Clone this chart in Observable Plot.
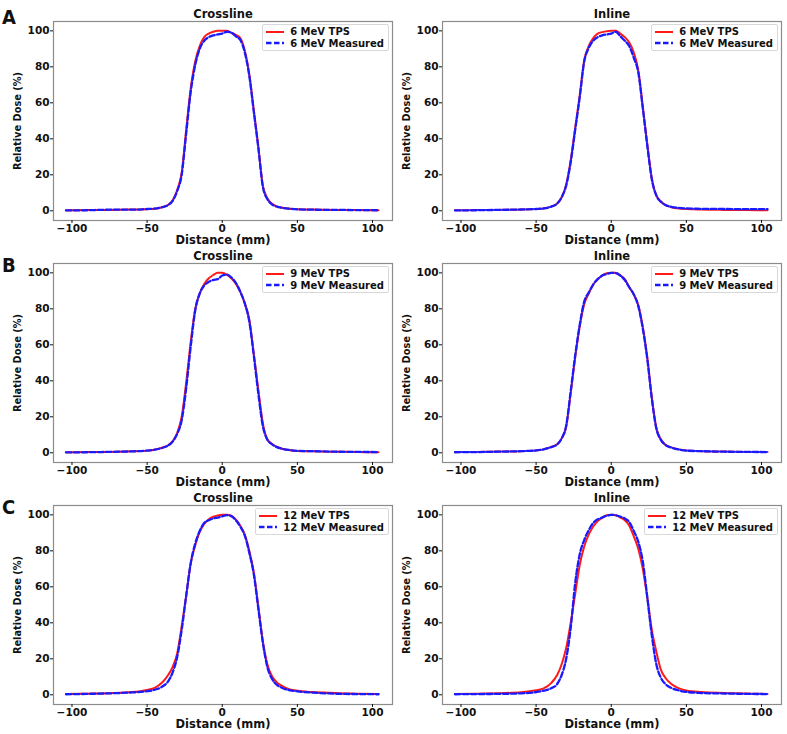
<!DOCTYPE html>
<html>
<head>
<meta charset="utf-8">
<script src="https://cdn.jsdelivr.net/npm/d3@7"></script>
<script src="https://cdn.jsdelivr.net/npm/@observablehq/plot@0.6"></script>
<style>
  body { margin: 0; background: #fff; }
  #fig { position: relative; width: 787px; height: 734px; font-family: "DejaVu Sans", sans-serif; font-weight: bold; color: #111; }
  .panel { position: absolute; z-index: 1; }
  .letter { position: absolute; z-index: 3; left: 2px; font-family: "Liberation Sans Narrow", "DejaVu Sans Condensed", sans-serif; font-weight: bold; font-size: 20px; line-height: 1; }
  .legend { position: absolute; z-index: 2; border: 1px solid #d8d8d8; border-radius: 2px; background: rgba(255,255,255,0.85); padding: 1px 4px 1px 3px; font-size: 10px; }
  .legend div { display: flex; align-items: center; height: 11.5px; white-space: nowrap; }
  .legend svg { margin-right: 6px; }
</style>
</head>
<body>
<div id="fig"></div>
<script>
// distancia (mm) de cada punto del perfil
const distance = [-104,-90,-75,-60,-50,-45,-40,-36,-33,-30,-27,-24,-21,-18,-15,-12,-9,-6,-3,0,3,6,9,12,15,18,21,24,27,30,33,36,40,45,50,60,75,90,104]

const xTicks = [-100, -50, 0, 50, 100]
const yTicks = [0, 20, 40, 60, 80, 100]
const titles = ["Crossline", "Inline"]
const energies = ["6 MeV", "9 MeV", "12 MeV"]
const rowLetters = ["A", "B", "C"]

/* 6 MeV */
const tps6Cross  = [0.3,0.4,0.5,0.7,0.9,1.1,2.0,3.3,5.8,11.5,21,45,68,83,91.5,96.5,98.5,99.5,100,100,100,99,97.8,96,89,76,56,36,14,7,4,2.6,1.7,1.1,0.9,0.7,0.5,0.4,0.3]
const meas6Cross = [0.2,0.3,0.6,0.6,1.0,1.2,2.0,3.2,5.5,11,20,43,66,81,90,94.5,96.5,97.5,98,98.5,99.5,99,97,95,88,75,55,35,13.5,6.5,3.6,2.4,1.6,1.1,0.8,0.6,0.5,0.4,0.3]
const tps6In     = [0.3,0.4,0.5,0.7,1.0,1.3,2.3,4.0,7.5,14.5,28,46,64,83.5,91.5,96,98.5,99.3,99.8,100,100,98.5,96.5,93.5,88,78,58,37,18,8.5,5.3,3.2,2.0,1.3,1.0,0.7,0.5,0.4,0.3]
const meas6In    = [0.2,0.3,0.5,0.7,1.0,1.3,2.3,4.0,7.5,14,27,45,63,83,90.5,94.5,96.5,97.5,98,98.5,99.5,97,94.5,91.5,85,77,57,36,17.5,8.5,5,3.2,2.2,1.6,1.3,1.1,1.0,0.9,0.9]

/* 9 MeV */
const tps9Cross  = [0.3,0.4,0.5,0.8,1.2,1.7,2.8,4.2,6.5,11,20,39,61.5,80,88.5,93.8,97,98.8,100,100,99,97,94,89.5,83,74,55,35,16.5,7.5,5,3.4,2.2,1.4,1.0,0.8,0.6,0.4,0.3]
const meas9Cross = [0.2,0.3,0.5,0.8,1.2,1.7,2.7,4.0,6.2,10.5,18,36,59,79,88.5,93,95,96,96.5,98.5,99,97.5,94.5,89.5,83,73,54,33,15,7.3,4.8,3.3,2.2,1.5,1.1,0.9,0.6,0.5,0.4]
const tps9In     = [0.4,0.5,0.7,0.9,1.3,1.9,3.2,4.7,8,14.5,33,53,70,82.5,88.5,93.5,96.5,98.5,99.8,100,100,98.7,96.5,92,88,82,70,53,31,14,7.5,4.5,3.0,1.9,1.3,0.9,0.7,0.5,0.4]
const meas9In    = [0.3,0.4,0.6,0.9,1.3,1.9,3.1,4.6,8,15,34,54,71,84,89,93.5,96.5,98.5,99.3,100,99.8,98.5,96,92,88,81.5,69,52,30,13.5,7.2,4.4,2.9,1.8,1.2,0.9,0.6,0.5,0.4]

/* 12 MeV */
const tps12Cross  = [0.4,0.6,0.9,1.5,2.7,3.8,6.8,11,15.5,23,38,55,73,83,90.5,95,97.5,99,99.7,100,100,99.5,97.5,94,89,80,68,49,30,17,10.5,7.2,4.8,3.0,2.2,1.5,1.0,0.6,0.4]
const meas12Cross = [0.3,0.5,0.8,1.3,2.0,2.8,4.5,7.5,12.5,21,36,55,73,84,91,95.5,97,98,98.5,99.2,99.8,99.3,97,93.5,88.5,79,67,48,29,15.5,9,5.8,3.8,2.5,1.9,1.2,0.6,0.4,0.3]
const tps12In     = [0.5,0.6,0.9,1.4,2.5,3.6,6.5,11,17,26,40,56,72,82.5,89,93.5,96.5,98.5,99.8,100,99.8,98.5,97,94,88,81,70,54,36,24,14,9.5,6,3.6,2.4,1.5,1.0,0.7,0.5]
const meas12In    = [0.3,0.4,0.5,0.8,1.5,2.3,3.6,6,11,20,37,62,78,86,91.5,95.5,97.5,98.5,99.5,100,99.8,99,98,96,91,85,74,54,33,17,9.5,6,3.8,2.4,1.6,1.0,0.7,0.5,0.4]

const tpsSeries  = [[tps6Cross, tps6In], [tps9Cross, tps9In], [tps12Cross, tps12In]]
const measSeries = [[meas6Cross, meas6In], [meas9Cross, meas9In], [meas12Cross, meas12In]]

const rowH = 242
const fig = d3.select('#fig')
const fmt = d => d < 0 ? `\u2212${-d}` : `${d}`
const toRows = values => distance.map((d, i) => ({distance: d, dose: values[i]}))

energies.forEach((energy, r) => {
  fig.append('div').attr('class', 'letter')
    .style('top', `${r * rowH + (r == 0 ? 7 : 13)}px`)
    .text(rowLetters[r])

  titles.forEach((title, c) => {
    const left = c ? 390 : 0
    const width = c ? 397 : 393
    const mLeft = c ? 52 : 53
    const mRight = c ? 6 : 1

    const chart = Plot.plot({
      width, height: rowH,
      marginLeft: mLeft, marginRight: mRight, marginTop: 21, marginBottom: 22,
      style: {fontFamily: '"DejaVu Sans", sans-serif', fontWeight: 'bold', fontSize: '10.5px', color: '#111', background: 'transparent', overflow: 'visible'},
      x: {domain: [-112.3, 113.3]},
      y: {domain: [-5.4, 105.2]},
      marks: [
        Plot.frame({stroke: '#8c8c8c', strokeWidth: 1.2}),
        Plot.axisX({ticks: xTicks, tickSize: 3, tickPadding: 1, tickFormat: fmt, label: null}),
        Plot.axisY({ticks: yTicks, tickSize: 3, tickPadding: 1, tickFormat: fmt, label: null}),
        Plot.line(toRows(tpsSeries[r][c]), {x: 'distance', y: 'dose', stroke: '#ff1a1a', strokeWidth: 2, curve: 'monotone-x'}),
        Plot.line(toRows(measSeries[r][c]), {x: 'distance', y: 'dose', stroke: '#1a1aff', strokeWidth: 2.3, strokeDasharray: '5.5,2.5', curve: 'monotone-x'}),
        Plot.text([title], {text: d => d, frameAnchor: 'top', lineAnchor: 'middle', dy: -7.5, fontSize: 11.5}),
        Plot.text(['Distance (mm)'], {text: d => d, frameAnchor: 'bottom', lineAnchor: 'middle', dy: 19.5, fontSize: 11.5}),
        Plot.text(['Relative Dose (%)'], {text: d => d, frameAnchor: 'left', textAnchor: 'middle', lineAnchor: 'middle', dx: -36, rotate: -90, fontSize: 9.8}),
      ],
    })

    fig.append('div').attr('class', 'panel')
      .style('left', `${left}px`).style('top', `${r * rowH}px`)
      .append(() => chart)

    // leyenda arriba a la derecha
    const legend = fig.append('div').attr('class', 'legend')
      .style('right', `${787 - (left + width - mRight) + 3}px`)
      .style('top', `${r * rowH + 21 + 3}px`)
    const entries = [
      {label: `${energy} TPS`, color: '#ff1a1a', dash: null},
      {label: `${energy} Measured`, color: '#1a1aff', dash: '5.5,2.5'},
    ]
    entries.forEach(e => {
      const row = legend.append('div')
      const s = row.append('svg').attr('width', 18).attr('height', 6)
      s.append('line').attr('x1', 0).attr('x2', 18).attr('y1', 3).attr('y2', 3)
        .attr('stroke', e.color).attr('stroke-width', e.dash ? 2.3 : 2)
        .attr('stroke-dasharray', e.dash)
      row.append('span').text(e.label)
    })
  })
})
</script>
</body>
</html>
